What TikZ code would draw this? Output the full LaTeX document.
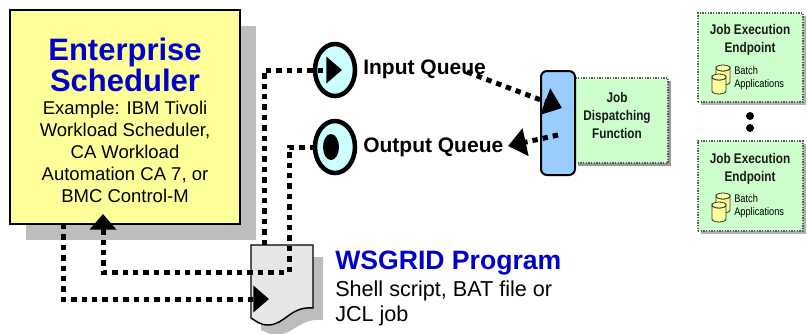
\documentclass[tikz,border=0pt]{standalone}
\usepackage{fontspec}
\setmainfont{Liberation Sans}
\newfontfamily\narrowfont[FakeStretch=0.84,BoldFeatures={FakeStretch=0.84}]{Liberation Sans}
\usetikzlibrary{arrows.meta,shapes.geometric}
\definecolor{schedblue}{RGB}{0,0,204}
\definecolor{shadowgray}{RGB}{189,189,189}
\definecolor{paleyellow}{RGB}{255,255,153}
\definecolor{paleaqua}{RGB}{204,255,255}
\definecolor{palegreen}{RGB}{204,255,204}
\definecolor{midblue}{RGB}{153,204,255}
\definecolor{docgray}{RGB}{230,230,230}
\newcommand{\pxfont}[2]{\fontsize{\dimexpr #1pt*3/4\relax}{\dimexpr #2pt*3/4\relax}\selectfont}
\tikzset{
  flow/.style={line width=3.75pt,dash pattern=on 4.05pt off 3.75pt,black},
  flowtip/.style={flow,-{Triangle[length=11.75pt,width=19.5pt]}},
  flowbig/.style={flow,-{Triangle[length=13.5pt,width=20.5pt]}},
  queue/.style={ellipse,draw=black,line width=3.4pt,fill=paleaqua,minimum width=30pt,minimum height=39pt,inner sep=0pt,outer sep=0pt},
  greenbox/.style={rectangle,draw=black!65,densely dotted,line width=1pt,fill=palegreen,inner sep=0pt,outer sep=0pt},
  boldlabel/.style={font=\pxfont{21}{25}\bfseries,inner sep=0pt,anchor=base west},
  narrowlabel/.style={font=\narrowfont\pxfont{14}{18}\bfseries,align=center,inner sep=0pt,text=black!90},
  batchlabel/.style={font=\narrowfont\pxfont{11}{12.5},align=left,inner sep=0pt,anchor=west},
  cyl/.style={draw=black!80,line width=.6pt,fill=paleyellow}
}
\newcommand{\drumpic}[2]{%
  \begin{scope}[shift={(#1,#2)}]
    \path[cyl] (-7,-7) arc[start angle=180,end angle=360,x radius=7,y radius=-3] -- (7,7)
       arc[start angle=0,end angle=-180,x radius=7,y radius=-3] -- cycle;
    \draw[cyl] (0,-7) ellipse[x radius=7,y radius=3];
  \end{scope}}
\begin{document}
\begin{tikzpicture}[x=0.75pt,y=-0.75pt]
\useasboundingbox (0,0) rectangle (807,333);
% scheduler
\fill[shadowgray] (26,26) rectangle (256,240);
\node[rectangle,draw=black,line width=1.5pt,fill=paleyellow,minimum width=172.5pt,minimum height=160.5pt,inner sep=0pt,outer sep=0pt] (sched) at (125,117) {};
\node[font=\pxfont{31}{31}\bfseries,text=schedblue,align=center,inner sep=0pt] (schedtitle) at (125,65) {Enterprise\\Scheduler};
\node[font=\pxfont{18.5}{22},align=center,inner sep=0pt] (schedtext) at (125,151.5) {Example: IBM Tivoli\\Workload Scheduler,\\CA Workload\\Automation CA 7, or\\BMC Control-M};
% document
\fill[shadowgray] (261,257) -- (323,257) -- (323,320) .. controls (300,318) and (295,333) .. (278,335) .. controls (270,335) and (266,332) .. (261,330) -- cycle;
\draw[line width=1.1pt,fill=docgray] (251,245) -- (313,245) -- (313,308) .. controls (290,306) and (285,325) .. (268,325) .. controls (260,325) and (256,321) .. (251,318) -- cycle;
\coordinate (doctop) at (264,245);
\coordinate (doctip) at (269,299);
% queues
\node[queue] (inq) at (335,70) {};
\node[queue] (outq) at (335,147) {};
\node[ellipse,fill=black,minimum width=12pt,minimum height=19.5pt,inner sep=0pt] (outdot) at (331,147) {};
\node[boldlabel] (inlabel) at (363,74.5) {Input Queue};
\node[boldlabel] (outlabel) at (363,152) {Output Queue};
% dispatcher
\fill[black!40] (578,81) rectangle (671,166);
\node[greenbox,minimum width=69.75pt,minimum height=63.75pt] (dispatch) at (621.5,120.5) {};
\node[rectangle,rounded corners=4.5pt,draw=black,line width=1.5pt,fill=midblue,minimum width=25.5pt,minimum height=78pt,inner sep=0pt,outer sep=0pt] (front) at (558,123) {};
\node[narrowlabel] (disptext) at (617,115) {Job\\Dispatching\\Function};
% endpoints
\fill[black!30] (701,16) rectangle (806,105);
\node[greenbox,minimum width=78.75pt,minimum height=66.75pt] (endA) at (750.5,57.5) {};
\node[narrowlabel] (endAtext) at (750,40) {Job Execution\\Endpoint};
\fill[black!30] (701,144) rectangle (806,234);
\node[greenbox,minimum width=78.75pt,minimum height=67.5pt] (endB) at (750.5,186) {};
\node[narrowlabel] (endBtext) at (750,169) {Job Execution\\Endpoint};
\drumpic{723}{75}
\drumpic{719}{84}
\node[batchlabel] (batchA) at (734,78) {Batch\\Applications};
\drumpic{723}{203}
\drumpic{719}{212}
\node[batchlabel] (batchB) at (734,206) {Batch\\Applications};
\node[circle,fill=black,minimum size=6pt,inner sep=0pt] (dotA) at (750,116) {};
\node[circle,fill=black,minimum size=6pt,inner sep=0pt] (dotB) at (750,128) {};
% WSGRID text
\node[font=\pxfont{26.6}{30}\bfseries,text=schedblue,inner sep=0pt,anchor=base west] (wsgrid) at (335,269) {WSGRID Program};
\node[font=\pxfont{21.6}{25},align=left,inner sep=0pt,anchor=north west] (wstext) at (335,281) {Shell script, BAT file or\\JCL job};
% connectors
\coordinate (inbend) at (264,70);
\coordinate (intip) at (342,70);
\coordinate (outbendA) at (289,147);
\coordinate (outbendB) at (289,272);
\coordinate (outbendC) at (103,272);
\coordinate (schedtip) at (103,214);
\coordinate (schedout) at (63,224);
\coordinate (schedbend) at (63,299);
\coordinate (qstart) at (467,72);
\coordinate (qtip) at (562,108);
\coordinate (rstart) at (558,135);
\coordinate (rtip) at (508,146);
\draw[flowtip] (doctop) -- (inbend) -- (intip);
\draw[flowtip] (outq.west) -- (outbendA) -- (outbendB) -- (outbendC) -- (schedtip);
\draw[flowtip] (schedout) -- (schedbend) -- (doctip);
\draw[flowbig] (qstart) -- (qtip);
\draw[flowbig] (rstart) -- (rtip);
\end{tikzpicture}
\end{document}
